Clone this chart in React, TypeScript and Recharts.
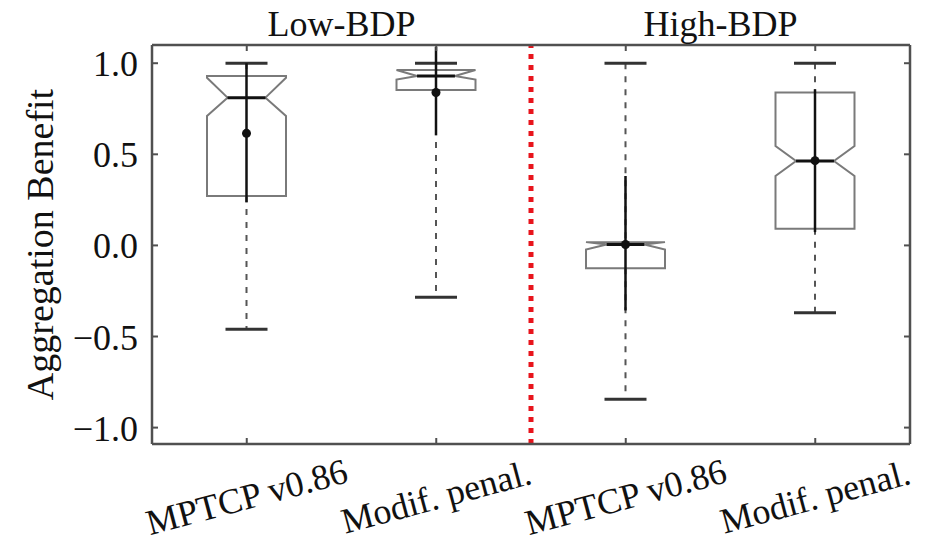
import { BarChart, Bar, XAxis, YAxis, ReferenceLine, ReferenceArea } from 'recharts';

// one entry per box, left to right
const CATEGORY_IDS = ['low-mptcp', 'low-modif', 'high-mptcp', 'high-modif'];
const CATEGORY_LABELS = ['MPTCP v0.86', 'Modif. penal.', 'MPTCP v0.86', 'Modif. penal.'];

const WHISKER_LO = [-0.46, -0.285, -0.845, -0.37];
const WHISKER_HI = [1.0, 1.0, 1.0, 1.0];
const Q1 = [0.271, 0.853, -0.125, 0.092];
const Q3 = [0.93, 0.963, 0.018, 0.839];
const MEDIAN = [0.811, 0.93, 0.005, 0.463];
const NOTCH_LO = [0.71, 0.91, -0.022, 0.381];
const NOTCH_HI = [0.92, 0.963, 0.018, 0.546];
const MEAN = [0.615, 0.839, 0.005, 0.465];
const SD_LO = [0.236, 0.604, -0.357, 0.073];
const SD_HI = [1.0, 1.09, 0.381, 0.857];

const Y_TICKS = [-1, -0.5, 0, 0.5, 1];

const FONT = '"Liberation Serif", "DejaVu Serif", serif';
const FRAME = '#505050';

const data = CATEGORY_IDS.map((id, i) => ({
    id,
    label: CATEGORY_LABELS[i],
    range: [WHISKER_LO[i], WHISKER_HI[i]],
    q1: Q1[i],
    q3: Q3[i],
    median: MEDIAN[i],
    notchLo: NOTCH_LO[i],
    notchHi: NOTCH_HI[i],
    mean: MEAN[i],
    sdLo: SD_LO[i],
    sdHi: SD_HI[i],
}));

const labelFor = (id: string) => CATEGORY_LABELS[CATEGORY_IDS.indexOf(id)] ?? id;

const fmtY = (v: number) => (v < 0 ? '\u2212' : '') + Math.abs(v).toFixed(1);

// notched box, dashed whiskers, caps, mean +/- sd line and mean dot
const BoxShape = (props: any) => {
    const { x, y, width, height, payload } = props;
    const [lo, hi] = payload.range;
    const top = Math.min(y, y + height);
    const bottom = Math.max(y, y + height);
    const py = (v: number) => top + ((hi - v) / (hi - lo)) * (bottom - top);

    const cx = x + width / 2;
    const nw = width * 0.24;
    const capW = 21;

    const q1 = py(payload.q1);
    const q3 = py(payload.q3);
    const med = py(payload.median);
    const nLo = py(payload.notchLo);
    const nHi = py(payload.notchHi);

    const path = [
        `M${x},${q3}`,
        `L${x + width},${q3}`,
        `L${x + width},${nHi}`,
        `L${cx + nw},${med}`,
        `L${x + width},${nLo}`,
        `L${x + width},${q1}`,
        `L${x},${q1}`,
        `L${x},${nLo}`,
        `L${cx - nw},${med}`,
        `L${x},${nHi}`,
        'Z',
    ].join(' ');

    return (
        <g>
            <line x1={cx} x2={cx} y1={top} y2={q3} stroke="#555" strokeWidth={2} strokeDasharray="6 7" />
            <line x1={cx} x2={cx} y1={q1} y2={bottom} stroke="#555" strokeWidth={2} strokeDasharray="6 7" />
            <line x1={cx - capW} x2={cx + capW} y1={top} y2={top} stroke="#333" strokeWidth={3} />
            <line x1={cx - capW} x2={cx + capW} y1={bottom} y2={bottom} stroke="#333" strokeWidth={3} />
            <path d={path} fill="none" stroke="#7a7a7a" strokeWidth={2} />
            <line x1={cx - nw} x2={cx + nw} y1={med} y2={med} stroke="#111" strokeWidth={3} />
            <line x1={cx} x2={cx} y1={py(payload.sdHi)} y2={py(payload.sdLo)} stroke="#111" strokeWidth={2.5} />
            <circle cx={cx} cy={py(payload.mean)} r={4.5} fill="#111" />
        </g>
    );
};

const BottomTick = ({ x, y, payload }: any) => (
    <g>
        <line x1={x} x2={x} y1={y} y2={y - 6} stroke={FRAME} strokeWidth={2} />
        <text
            x={x}
            y={y + 53}
            textAnchor="middle"
            dominantBaseline="central"
            transform={`rotate(-15, ${x}, ${y + 53})`}
            fontFamily={FONT}
            fontSize={36}
            fill="#111"
        >
            {labelFor(payload.value)}
        </text>
    </g>
);

const TopTick = ({ x, y }: any) => (
    <line x1={x} x2={x} y1={y} y2={y + 6} stroke={FRAME} strokeWidth={2} />
);

const LeftTick = ({ x, y, payload }: any) => (
    <g>
        <line x1={x} x2={x + 6} y1={y} y2={y} stroke={FRAME} strokeWidth={2} />
        <text x={x - 14} y={y + 13} textAnchor="end" fontFamily={FONT} fontSize={36} fill="#111">
            {fmtY(payload.value)}
        </text>
    </g>
);

const RightTick = ({ x, y }: any) => (
    <line x1={x} x2={x - 6} y1={y} y2={y} stroke={FRAME} strokeWidth={2} />
);

const YLabel = ({ viewBox }: any) => {
    const cx = viewBox.x + 40;
    const cy = viewBox.y + viewBox.height / 2;
    return (
        <text
            x={cx}
            y={cy}
            textAnchor="middle"
            dominantBaseline="central"
            transform={`rotate(-90, ${cx}, ${cy})`}
            fontFamily={FONT}
            fontSize={38}
            fill="#111"
        >
            Aggregation Benefit
        </text>
    );
};

export default function App() {
    return (
        <div style={{ position: 'absolute', left: 0, top: 0, background: '#fff' }}>
            <BarChart
                width={936}
                height={543}
                data={data}
                margin={{ top: 0, right: 0, left: 0, bottom: 0 }}
                barSize={79}
            >
                <XAxis
                    dataKey="id"
                    height={99}
                    axisLine={{ stroke: FRAME, strokeWidth: 2.5 }}
                    tickLine={false}
                    tickSize={0}
                    tickMargin={0}
                    tick={<BottomTick />}
                    interval={0}
                />
                <XAxis
                    xAxisId="top"
                    orientation="top"
                    dataKey="id"
                    height={45}
                    axisLine={{ stroke: FRAME, strokeWidth: 2.5 }}
                    tickLine={false}
                    tickSize={0}
                    tickMargin={0}
                    tick={<TopTick />}
                    interval={0}
                />
                <YAxis
                    type="number"
                    domain={[-1.09, 1.1]}
                    ticks={Y_TICKS}
                    width={152}
                    axisLine={{ stroke: FRAME, strokeWidth: 2.5 }}
                    tickLine={false}
                    tickSize={0}
                    tickMargin={0}
                    tick={<LeftTick />}
                    interval={0}
                    allowDataOverflow
                    label={<YLabel />}
                />
                <YAxis
                    yAxisId="right"
                    orientation="right"
                    type="number"
                    domain={[-1.09, 1.1]}
                    ticks={Y_TICKS}
                    width={26}
                    axisLine={{ stroke: FRAME, strokeWidth: 2.5 }}
                    tickLine={false}
                    tickSize={0}
                    tickMargin={0}
                    tick={<RightTick />}
                    interval={0}
                    allowDataOverflow
                />
                <ReferenceArea
                    x1="low-mptcp"
                    x2="low-modif"
                    fill="none"
                    fillOpacity={0}
                    strokeOpacity={0}
                    label={{ value: 'Low-BDP', position: 'top', offset: 9, fontFamily: FONT, fontSize: 36, fill: '#111' }}
                />
                <ReferenceArea
                    x1="high-mptcp"
                    x2="high-modif"
                    fill="none"
                    fillOpacity={0}
                    strokeOpacity={0}
                    label={{ value: 'High-BDP', position: 'top', offset: 9, fontFamily: FONT, fontSize: 36, fill: '#111' }}
                />
                <Bar dataKey="range" isAnimationActive={false} shape={<BoxShape />} />
                <ReferenceLine
                    x="high-mptcp"
                    position="start"
                    stroke="#e8141c"
                    strokeWidth={5}
                    strokeDasharray="5 6"
                />
            </BarChart>
        </div>
    );
}
